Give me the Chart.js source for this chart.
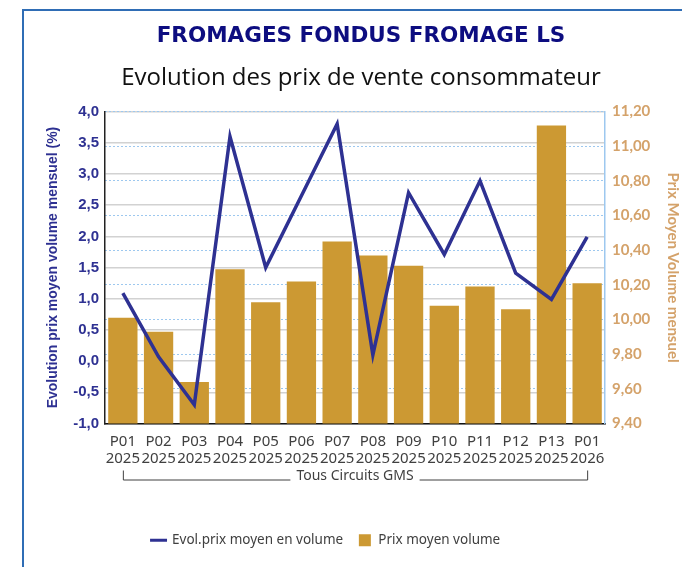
<!DOCTYPE html>
<html>
<head>
<meta charset="utf-8">
<script src="https://cdn.jsdelivr.net/npm/chart.js@4.4.1/dist/chart.umd.min.js"></script>
<style>
  html, body { margin: 0; padding: 0; background: #fff; overflow: hidden; }
  #frame { position: absolute; left: 22px; top: 9px; width: 700px; height: 600px;
           border-left: 2px solid #2f6db5; border-top: 2px solid #2f6db5; }
  #wrap { position: absolute; left: 0; top: 0; width: 682px; height: 567px; }
</style>
</head>
<body>
<div id="frame"></div>
<div id="wrap"><canvas id="myChart" width="682" height="567"></canvas></div>
<script>
const periods = [['P01','2025'],['P02','2025'],['P03','2025'],['P04','2025'],['P05','2025'],['P06','2025'],['P07','2025'],['P08','2025'],['P09','2025'],['P10','2025'],['P11','2025'],['P12','2025'],['P13','2025'],['P01','2026']];
const evolPrix = [1.09, 0.07, -0.70, 3.60, 1.50, 2.65, 3.80, 0.10, 2.70, 1.71, 2.89, 1.41, 0.99, 1.99];
const prixMoyen = [10.01, 9.93, 9.64, 10.29, 10.10, 10.22, 10.45, 10.37, 10.31, 10.08, 10.19, 10.06, 11.12, 10.21];
const groupLabel = 'Tous Circuits GMS';

const BLUE = '#2e3192';
const GOLD = '#cc9933';
const TAN = '#d4a26a';

// bracket under the category labels
const bracketPlugin = {
    id: 'bracket',
    afterLayout(chart) {
        // legend sits a bit left of the centre in the original
        if (chart.legend) {
            chart.legend.left -= 35;
            chart.legend.right -= 35;
        }
    },
    afterDraw(chart) {
        const x = chart.scales.x;
        const ctx = chart.ctx;
        const x0 = x.getPixelForValue(0);
        const x1 = x.getPixelForValue(periods.length - 1);
        const yTop = x.top + 47;
        const yLine = x.top + 56;
        const cx = (x0 + x1) / 2;
        ctx.save();
        ctx.font = '14px "Noto Sans"';
        const tw = ctx.measureText(groupLabel).width;
        ctx.strokeStyle = '#404040';
        ctx.lineWidth = 1;
        ctx.beginPath();
        ctx.moveTo(x0 + 0.5, yTop);
        ctx.lineTo(x0 + 0.5, yLine + 0.5);
        ctx.lineTo(cx - tw / 2 - 6, yLine + 0.5);
        ctx.moveTo(cx + tw / 2 + 6, yLine + 0.5);
        ctx.lineTo(x1 + 0.5, yLine + 0.5);
        ctx.lineTo(x1 + 0.5, yTop);
        ctx.stroke();
        ctx.fillStyle = '#404040';
        ctx.textAlign = 'center';
        ctx.textBaseline = 'middle';
        ctx.fillText(groupLabel, cx, yLine - 3);
        ctx.restore();
    }
};

const ctx = document.getElementById('myChart').getContext('2d');
new Chart(ctx, {
    type: 'bar',
    data: {
        labels: periods,
        datasets: [{
            type: 'line',
            label: 'Evol.prix moyen en volume',
            data: evolPrix,
            yAxisID: 'y',
            borderColor: BLUE,
            backgroundColor: BLUE,
            borderWidth: 3.5,
            pointRadius: 0,
            tension: 0,
            order: 0
        }, {
            type: 'bar',
            label: 'Prix moyen volume',
            data: prixMoyen,
            yAxisID: 'y1',
            backgroundColor: GOLD,
            barPercentage: 0.82,
            categoryPercentage: 1,
            order: 1
        }]
    },
    options: {
        responsive: false,
        animation: false,
        layout: { padding: { left: 40, right: 0, top: 0, bottom: 10 } },
        plugins: {
            title: {
                display: true,
                text: 'FROMAGES FONDUS FROMAGE LS',
                color: '#0d0d80',
                font: { family: 'DejaVu Sans', size: 21.5, weight: 'bold' },
                padding: { top: 24, bottom: 14 }
            },
            subtitle: {
                display: true,
                text: 'Evolution des prix de vente consommateur',
                color: '#111',
                font: { family: 'Open Sans', size: 24, weight: 'normal' },
                padding: { top: 0, bottom: 19 }
            },
            legend: {
                position: 'bottom',
                labels: {
                    usePointStyle: true,
                    boxHeight: 12,
                    padding: 15,
                    color: '#404040',
                    font: { family: 'Noto Sans', size: 13.5 },
                    generateLabels(chart) {
                        return chart.data.datasets.map((ds, i) => ({
                            text: ds.label,
                            datasetIndex: i,
                            fillStyle: ds.type === 'line' ? ds.borderColor : ds.backgroundColor,
                            strokeStyle: ds.type === 'line' ? ds.borderColor : ds.backgroundColor,
                            lineWidth: ds.type === 'line' ? 3 : 0,
                            pointStyle: ds.type === 'line' ? 'line' : 'rect',
                            fontColor: '#404040'
                        }));
                    }
                }
            },
            tooltip: { enabled: false }
        },
        scales: {
            x: {
                offset: true,
                grid: { display: false, drawTicks: false },
                border: { display: true, color: '#111', width: 1.5 },
                ticks: {
                    color: '#404040',
                    padding: 10,
                    maxRotation: 0,
                    autoSkip: false,
                    font: { family: 'Noto Sans', size: 15, lineHeight: 1.133 }
                },
                afterFit(scale) { scale.height = 95; }
            },
            y: {
                position: 'left',
                min: -1,
                max: 4,
                grid: { color: '#d2d2d2', lineWidth: 1.5, drawTicks: false },
                border: { display: true, color: '#222', width: 1.5 },
                ticks: {
                    stepSize: 0.5,
                    padding: 6,
                    color: BLUE,
                    font: { family: 'Liberation Sans', size: 15, weight: 'bold' },
                    callback: v => v.toFixed(1).replace('.', ',')
                },
                title: {
                    display: true,
                    text: 'Evolution prix moyen volume mensuel (%)',
                    color: BLUE,
                    font: { family: 'Liberation Sans', size: 14, weight: 'bold' },
                    padding: { top: 5, bottom: 0 }
                },
                afterFit(scale) { scale.width = 65; }
            },
            y1: {
                position: 'right',
                min: 9.4,
                max: 11.2,
                grid: { color: '#9dc8ef', lineWidth: 1, drawTicks: false },
                border: { display: true, color: '#9dc8ef', width: 1.5, dash: [2, 2] },
                ticks: {
                    stepSize: 0.2,
                    padding: 7,
                    color: TAN,
                    font: { family: 'Lato', size: 15, weight: 'bold' },
                    callback: v => v.toFixed(2).replace('.', ',')
                },
                title: {
                    display: true,
                    text: 'Prix Moyen Volume mensuel',
                    color: TAN,
                    font: { family: 'Lato', size: 15, weight: 'bold' },
                    padding: { top: 0, bottom: 0 }
                },
                afterFit(scale) { scale.width = 77; }
            }
        }
    },
    plugins: [bracketPlugin]
});
</script>
</body>
</html>
